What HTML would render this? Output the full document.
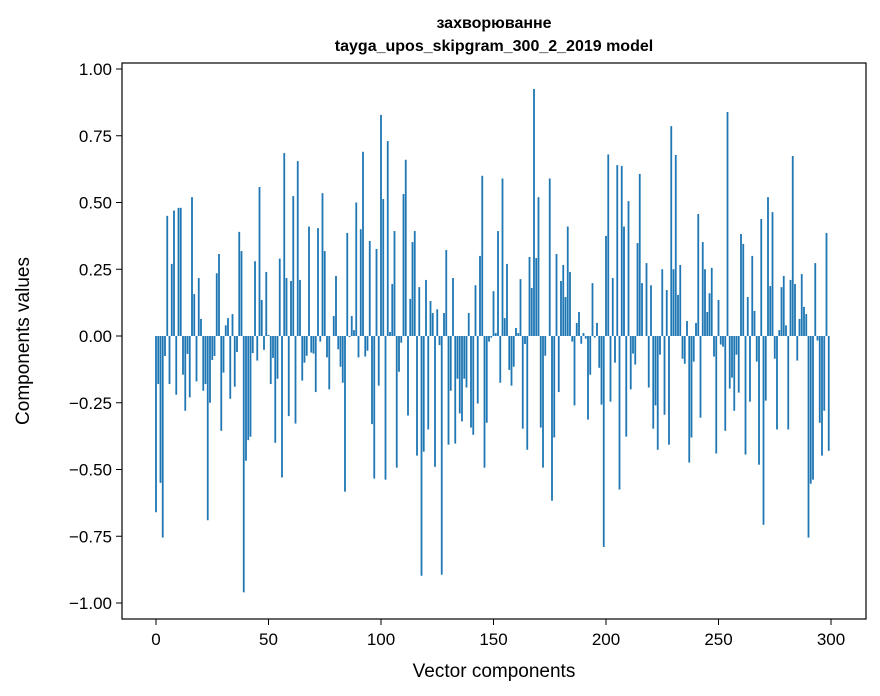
<!DOCTYPE html>
<html><head><meta charset="utf-8"><style>
html,body{margin:0;padding:0;background:#fff;}
svg{display:block;font-family:"Liberation Sans","DejaVu Sans",sans-serif;}
</style></head><body>
<svg id="chart" width="880" height="696">
<text x="494" y="28" text-anchor="middle" font-size="16" font-weight="bold">захворюванне</text>
<text x="494" y="51" text-anchor="middle" font-size="16" font-weight="bold">tayga_upos_skipgram_300_2_2019 model</text>
<g id="bars"></g>
<rect x="122" y="63" width="744" height="556" fill="none" stroke="#000" stroke-width="1.2"/>
<g id="xticks"></g>
<g id="yticks"></g>
<text x="494" y="677" text-anchor="middle" font-size="19">Vector components</text>
<text transform="translate(29,341) rotate(-90)" text-anchor="middle" font-size="19">Components values</text>
</svg>
<script>
const values = [
-0.66,-0.18,-0.55,-0.755,-0.075,0.45,-0.18,0.27,0.47,-0.22,0.48,0.48,-0.145,-0.28,-0.067,-0.23,0.52,0.157,-0.17,0.217,
0.064,-0.205,-0.18,-0.69,-0.25,-0.09,-0.075,0.235,0.307,-0.355,-0.137,0.04,0.067,-0.235,0.082,-0.19,-0.06,0.39,0.318,-0.96,
-0.467,-0.39,-0.377,-0.064,0.28,-0.092,0.558,0.135,-0.052,0.24,0.004,-0.18,-0.082,-0.40,-0.16,0.29,-0.53,0.685,0.217,-0.30,
0.206,0.524,-0.328,0.655,0.21,-0.167,-0.10,-0.074,0.41,-0.062,-0.066,-0.21,0.404,-0.021,0.535,0.318,-0.08,-0.2,0.0,0.075,
0.225,-0.05,-0.115,-0.175,-0.583,0.386,-0.004,0.075,0.022,0.50,-0.08,0.40,0.69,-0.077,-0.055,0.356,-0.33,-0.534,0.326,-0.186,
0.828,0.513,-0.538,0.73,0.015,0.195,0.393,-0.493,-0.134,-0.025,0.532,0.66,-0.298,0.139,0.352,0.393,-0.448,0.183,-0.898,-0.433,
0.21,-0.35,0.131,0.086,-0.49,0.1,-0.034,-0.894,0.086,0.322,-0.407,-0.205,0.217,-0.403,-0.16,-0.29,-0.32,-0.16,-0.193,0.086,
-0.343,-0.37,0.19,-0.253,0.30,0.6,-0.493,-0.325,-0.021,-0.006,0.168,0.011,0.393,-0.175,0.59,0.067,0.27,-0.127,-0.186,-0.115,
0.03,0.011,0.213,-0.347,-0.03,-0.426,0.296,0.18,0.925,0.292,0.52,-0.343,-0.493,-0.074,0.0,0.59,-0.617,-0.38,0.307,-0.21,
0.206,0.266,0.146,0.41,0.24,-0.021,-0.26,0.049,0.09,-0.029,0.011,-0.01,-0.313,-0.145,0.198,-0.006,0.049,-0.119,-0.257,-0.79,
0.375,0.68,-0.246,0.217,-0.1,0.64,-0.575,0.637,0.41,-0.377,0.505,-0.2,-0.066,-0.107,0.348,0.607,0.198,0.0,0.273,-0.193,
0.19,-0.347,-0.26,-0.426,-0.07,0.25,-0.295,0.172,-0.407,0.786,0.25,0.678,0.154,0.266,-0.085,-0.104,0.056,-0.474,-0.38,-0.096,
0.049,0.457,-0.306,0.352,0.25,0.09,0.16,0.255,-0.077,-0.44,0.135,-0.032,-0.04,-0.355,0.839,-0.197,-0.156,-0.28,-0.07,-0.212,
0.382,0.345,-0.444,0.146,-0.246,0.3,0.094,-0.096,-0.482,0.438,-0.707,-0.242,0.52,0.187,0.464,-0.085,-0.35,0.022,0.183,0.225,
0.04,-0.35,0.21,0.674,0.195,-0.092,0.064,0.232,0.109,0.082,-0.755,-0.553,-0.538,0.273,-0.017,-0.325,-0.448,-0.28,0.386,-0.43
];
const xTicks = [0,50,100,150,200,250,300];
const yTicks = [-1.00,-0.75,-0.50,-0.25,0.00,0.25,0.50,0.75,1.00];
const NS = "http://www.w3.org/2000/svg";
function xs(v){ return 156 + v*2.25; }
function ys(v){ return 336 - v*267; }
const gb = document.getElementById('bars');
values.forEach((v,i)=>{
  const r = document.createElementNS(NS,'rect');
  const w = 0.8*2.25;
  r.setAttribute('x', xs(i)-w/2);
  r.setAttribute('width', w);
  r.setAttribute('y', Math.min(ys(v), ys(0)));
  r.setAttribute('height', Math.abs(ys(v)-ys(0)));
  r.setAttribute('fill', '#1f77b4');
  
  
  gb.appendChild(r);
});
const gx = document.getElementById('xticks');
xTicks.forEach(t=>{
  const l = document.createElementNS(NS,'line');
  l.setAttribute('x1', xs(t)); l.setAttribute('x2', xs(t));
  l.setAttribute('y1', 619); l.setAttribute('y2', 625);
  l.setAttribute('stroke', '#000');
  
  
  gx.appendChild(l);
  const tx = document.createElementNS(NS,'text');
  tx.setAttribute('x', xs(t)); tx.setAttribute('y', 645);
  tx.setAttribute('text-anchor', 'middle'); tx.setAttribute('font-size', '17');
  tx.textContent = t;
  
  
  gx.appendChild(tx);
});
const gy = document.getElementById('yticks');
yTicks.forEach(t=>{
  const l = document.createElementNS(NS,'line');
  l.setAttribute('x1', 116); l.setAttribute('x2', 122);
  l.setAttribute('y1', ys(t)); l.setAttribute('y2', ys(t));
  l.setAttribute('stroke', '#000');
  
  
  gy.appendChild(l);
  const tx = document.createElementNS(NS,'text');
  tx.setAttribute('x', 112); tx.setAttribute('y', ys(t)+6);
  tx.setAttribute('text-anchor', 'end'); tx.setAttribute('font-size', '17');
  tx.textContent = (t<0?'\u2212':'') + Math.abs(t).toFixed(2);
  
  
  gy.appendChild(tx);
});
</script>
</body></html>
